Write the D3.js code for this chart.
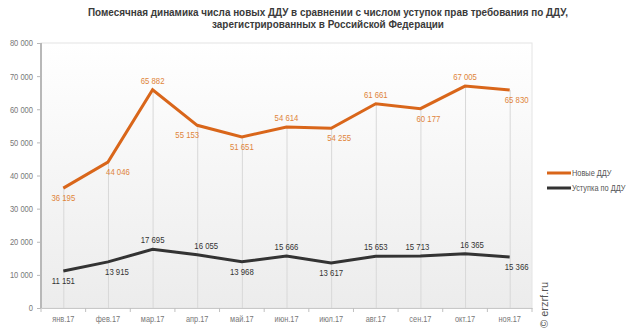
<!DOCTYPE html>
<html><head><meta charset="utf-8">
<script src="https://cdn.jsdelivr.net/npm/d3@7"></script>
<style>body{margin:0;background:#fff}svg{display:block}</style>
</head><body>
<svg id="c" width="635" height="335"></svg>
<script>
const months = ["янв.17","фев.17","мар.17","апр.17","май.17","июн.17","июл.17","авг.17","сен.17","окт.17","ноя.17"];
const newDdu = [36195,44046,65882,55153,51651,54614,54255,61661,60177,67005,65830];
const ustupka = [11151,13915,17695,16055,13968,15666,13617,15653,15713,16365,15366];
const yTicks = [0,10000,20000,30000,40000,50000,60000,70000,80000];
const seriesNames = ["Новые ДДУ","Уступка по ДДУ"];
const titleLines = ["Помесячная динамика числа новых ДДУ в сравнении с числом уступок прав требования по ДДУ,","зарегистрированных в Российской Федерации"];
// label placement: 1 = above, -1 = below; horizontal nudge
const newPlace = [-1,-1,1,-1,-1,1,-1,1,-1,1,-1];
const newNudge = [0,10,0,-10,0,0,8,0,8,0,7];
const ustPlace = [-1,-1,1,1,-1,1,-1,1,1,1,-1];
const ustNudge = [0,9,0,9,0,0,0,0,-3,7,7];

const svg = d3.select("#c");
const L=41,R=532,T=43,B=308;
const font = "'Liberation Sans',Arial,sans-serif";
const x = d3.scaleBand().domain(months).range([L,R]);
const y = d3.scaleLinear().domain([0,80000]).range([B,T]);
const cx = m => x(m)+x.bandwidth()/2;
const fmt = d => d3.format(",")(d).replace(/,/g," ");
function squeeze(sel, f){
  sel.each(function(){
    const s = d3.select(this);
    const tx = +s.attr("x")||0, ty = +s.attr("y")||0;
    s.attr("x",0).attr("y",0).attr("transform",`translate(${tx},${ty}) scale(${f},1)`);
  });
}

const defs = svg.append("defs");
const g = defs.append("linearGradient").attr("id","bg").attr("x1",0).attr("y1",0).attr("x2",0).attr("y2",1);
g.append("stop").attr("offset","0%").attr("stop-color","#ffffff");
g.append("stop").attr("offset","100%").attr("stop-color","#ececec");
svg.append("rect").attr("x",L).attr("y",T).attr("width",R-L).attr("height",B-T).attr("fill","url(#bg)")
  .attr("stroke","#e4e4e4").attr("stroke-width",1);

// title
const tt = svg.append("g").selectAll("text").data(titleLines).join("text")
  .attr("x",328).attr("y",(d,i)=>16+i*12).attr("text-anchor","middle")
  .attr("font-family",font).attr("font-weight","bold").attr("font-size",11.5).attr("fill","#3a3a3a").text(d=>d);
const tf = 481/tt.node().getComputedTextLength();
squeeze(tt, tf);

// drop lines
svg.append("g").selectAll("line").data(months).join("line")
  .attr("x1",d=>cx(d)+0.5).attr("x2",d=>cx(d)+0.5)
  .attr("y1",(d,i)=>y(newDdu[i])).attr("y2",B)
  .attr("stroke","#d8d8d8").attr("stroke-width",1);

// y axis
const ya = svg.append("g").attr("transform",`translate(${L},0)`)
  .call(d3.axisLeft(y).tickValues(yTicks).tickSize(4).tickFormat(fmt));
ya.select(".domain").attr("stroke","#b8b8b8").attr("stroke-width",2).attr("d",`M0,${T}V${B}`);
ya.selectAll(".tick line").attr("stroke","#b8b8b8");
ya.selectAll(".tick text").attr("font-family",font).attr("font-size",9).attr("fill","#777").attr("x",-8);
squeeze(ya.selectAll(".tick text"), 0.84);

// x axis
const xa = svg.append("g").attr("transform",`translate(0,${B})`).call(d3.axisBottom(x).tickSize(0).tickPadding(8));
xa.select(".domain").attr("stroke","#c8c8c8");
xa.selectAll(".tick text").attr("font-family",font).attr("font-size",9).attr("fill","#777");
squeeze(xa.selectAll(".tick text"), 0.82);
svg.append("g").selectAll("line").data(d3.range(months.length+1)).join("line")
  .attr("x1",i=>L+i*x.step()).attr("x2",i=>L+i*x.step()).attr("y1",B).attr("y2",B+4)
  .attr("stroke","#c0c0c0");

// lines
const line = d3.line().x((d,i)=>cx(months[i])).y(d=>y(d));
const series = [
  {vals:newDdu,color:"#d9661a",label:"#e0843a",place:newPlace,nudge:newNudge},
  {vals:ustupka,color:"#333333",label:"#333333",place:ustPlace,nudge:ustNudge}
];
series.forEach(s=>{
  svg.append("path").datum(s.vals).attr("d",line).attr("fill","none")
    .attr("stroke",s.color).attr("stroke-width",3).attr("stroke-linejoin","miter");
  const lt = svg.append("g").selectAll("text").data(s.vals).join("text")
    .attr("x",(d,i)=>cx(months[i])+s.nudge[i])
    .attr("y",(d,i)=>y(d)+(s.place[i]>0?-6:13))
    .attr("text-anchor","middle").attr("font-family",font).attr("font-size",9.5)
    .attr("fill",s.label).text(fmt);
  squeeze(lt, 0.82);
});

// legend
const lg = svg.append("g").selectAll("g").data(seriesNames).join("g")
  .attr("transform",(d,i)=>`translate(547,${173+i*15})`);
lg.append("line").attr("x1",0).attr("x2",24).attr("stroke",(d,i)=>series[i].color).attr("stroke-width",3);
const lgt = lg.append("text").attr("x",25).attr("y",3).attr("font-family",font).attr("font-size",9)
  .attr("fill","#555").text(d=>d);
squeeze(lgt, 0.82);

// watermark
svg.append("text").attr("transform","translate(548,328) rotate(-90)")
  .attr("font-family",font).attr("font-size",11).attr("fill","#555").text("© erzrf.ru");
</script>
</body></html>
